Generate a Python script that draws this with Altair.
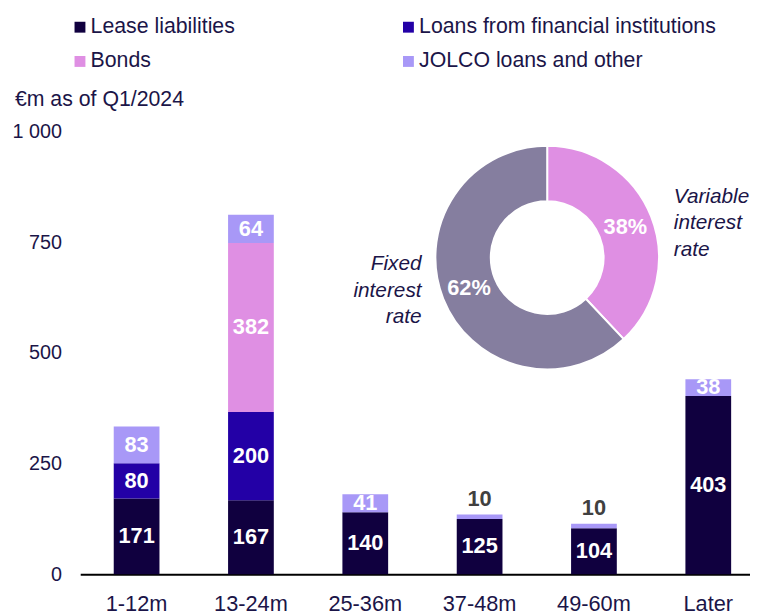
import altair as alt
import pandas as pd

# ---------------- data ----------------
periods = ["1-12m", "13-24m", "25-36m", "37-48m", "49-60m", "Later"]
series = ["Lease liabilities", "Loans from financial institutions", "Bonds", "JOLCO loans and other"]
lease = [171, 167, 140, 125, 104, 403]
loans = [80, 200, 0, 0, 0, 0]
bonds = [0, 382, 0, 0, 0, 0]
jolco = [83, 64, 41, 10, 10, 38]
series_colors = ["#10003f", "#2300a6", "#df8fe3", "#a898f7"]

rate_types = ["Variable interest rate", "Fixed interest rate"]
rate_shares = [38, 62]
rate_colors = ["#df8fe3", "#857e9f"]

y_ticks = [0, 250, 500, 750, 1000]
title_text = ["€m as of Q1/2024"]

TEXT = "#1b1548"
FONT = "Liberation Sans"

rows = []
for s_i, (name, vals) in enumerate(zip(series, [lease, loans, bonds, jolco])):
    for p, v in zip(periods, vals):
        if v > 0:
            rows.append({"period": p, "series": name, "value": v, "ord": s_i})
df = pd.DataFrame(rows)

pie_df = pd.DataFrame({"rate": rate_types, "share": rate_shares,
                       "col": rate_colors, "ord": [0, 1]})

# ---------------- bars ----------------
base = alt.Chart(df).transform_stack(
    stack="value", groupby=["period"], as_=["y0", "y1"],
    sort=[alt.SortField("ord", order="ascending")]
).transform_calculate(mid="(datum.y0 + datum.y1) / 2")

x_enc = alt.X(
    "period:N", sort=periods, title=None,
    scale=alt.Scale(paddingInner=0.6, paddingOuter=0.229, align=0.64),
    axis=alt.Axis(labelAngle=0, ticks=False, tickSize=0, domainColor="#000000",
                  domainWidth=2, labelFontSize=22, labelPadding=20,
                  labelColor=TEXT, labelFont=FONT, labelBaseline="top"),
)
y_scale = alt.Scale(domain=[0, 1000])

bars = base.mark_bar().encode(
    x=x_enc,
    y=alt.Y("y0:Q", scale=y_scale, title=None,
            axis=alt.Axis(values=y_ticks, grid=False, ticks=False, tickSize=0,
                          domain=False, labelPadding=19, labelFontSize=20,
                          labelColor=TEXT, labelFont=FONT,
                          labelExpr="replace(format(datum.value, ','), ',', ' ')")),
    y2="y1:Q",
    color=alt.Color(
        "series:N",
        scale=alt.Scale(domain=series, range=series_colors),
        legend=alt.Legend(orient="none", legendX=-11, legendY=-117, columns=2,
                          direction="horizontal",
                          columnPadding=164, rowPadding=12, symbolType="square",
                          symbolSize=121, symbolStrokeWidth=0, labelFontSize=21.5,
                          labelFont=FONT, labelColor=TEXT, labelOffset=0,
                          labelLimit=500, title=None, padding=0),
    ),
)

inner_labels = base.transform_filter("datum.value >= 20").mark_text(
    color="white", fontWeight="bold", fontSize=22, font=FONT, baseline="middle"
).encode(
    x=alt.X("period:N", sort=periods, title=None),
    y=alt.Y("mid:Q", scale=y_scale, title=None),
    text=alt.Text("value:Q", format="d"),
)

top_labels = base.transform_filter("datum.value < 20").mark_text(
    color="#404040", fontWeight="bold", fontSize=22, font=FONT,
    baseline="middle", dy=-16
).encode(
    x=alt.X("period:N", sort=periods, title=None),
    y=alt.Y("y1:Q", scale=y_scale, title=None),
    text=alt.Text("value:Q", format="d"),
)

# ---------------- donut ----------------
CX, CY = 472, 127
donut = alt.Chart(pie_df).mark_arc(
    innerRadius=57, outerRadius=113, stroke="white", strokeWidth=2
).encode(
    theta=alt.Theta("share:Q", stack=True),
    order=alt.Order("ord:Q"),
    color=alt.Color("col:N", scale=None),
    x=alt.value(CX), y=alt.value(CY),
)

donut_pct = alt.Chart(pie_df).transform_calculate(
    pct="datum.share + '%'"
).mark_text(
    radius=85, color="white", fontWeight="bold", fontSize=22, font=FONT,
    baseline="middle", align="center"
).encode(
    theta=alt.Theta("share:Q", stack=True),
    order=alt.Order("ord:Q"),
    text="pct:N",
    x=alt.value(CX), y=alt.value(CY),
)

var_label = alt.Chart(pie_df).transform_filter(
    alt.datum.rate == rate_types[0]
).mark_text(
    align="left", baseline="middle", fontStyle="italic", fontSize=21,
    font=FONT, color=TEXT, lineBreak=" ", lineHeight=26.5
).encode(text="rate:N", x=alt.value(600), y=alt.value(66))

fix_label = alt.Chart(pie_df).transform_filter(
    alt.datum.rate == rate_types[1]
).mark_text(
    align="right", baseline="middle", fontStyle="italic", fontSize=21,
    font=FONT, color=TEXT, lineBreak=" ", lineHeight=26.5
).encode(text="rate:N", x=alt.value(345), y=alt.value(134))

title = alt.Chart(pd.DataFrame({"t": title_text})).mark_text(
    align="left", baseline="middle", fontSize=21.5, font=FONT, color=TEXT
).encode(text="t:N", x=alt.value(-66), y=alt.value(-32))

chart = alt.layer(
    bars, inner_labels, top_labels, donut, donut_pct, var_label, fix_label, title
).properties(
    width=677, height=447,
    autosize=alt.AutoSizeParams(type="none"),
    padding={"left": 73, "top": 122, "right": 0, "bottom": 40},
).configure(
    font=FONT, background="white"
).configure_view(
    stroke="transparent", strokeWidth=0
)

chart.save("out.html", embed_options={"renderer": "svg", "actions": False})
